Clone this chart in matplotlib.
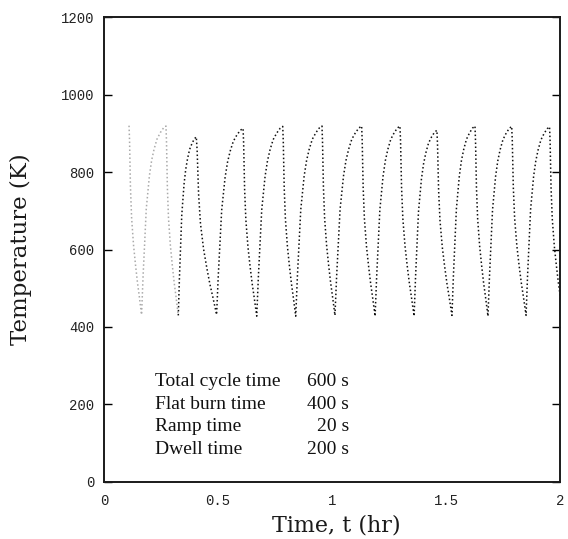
import numpy as np
import matplotlib
matplotlib.use("Agg")
import matplotlib.pyplot as plt

# Peak and minimum points of each burn cycle (time in hr, temperature in K)
peak_times = [0.110, 0.272, 0.405, 0.610, 0.784, 0.956, 1.130, 1.298, 1.460, 1.627, 1.788, 1.954]
peak_temps = [920, 919, 891, 913, 918, 919, 919, 919, 908, 919, 918, 917]
# last minimum lies just past the right edge of the axes
min_times = [0.165, 0.326, 0.494, 0.670, 0.841, 1.013, 1.189, 1.360, 1.526, 1.684, 1.851, 2.012]
min_temps = [432, 430, 432, 428, 428, 430, 428, 428, 430, 428, 430, 430]

# Shape of one cycle, read from the cycle around t = 0.8 hr (seconds from start of segment, K)
rise_dt = [0, 26, 53, 79, 110, 132, 170, 211, 260, 317, 370, 412]
rise_temp = [428, 530, 616, 702, 752, 788, 828, 857, 883, 900, 912, 917]
fall_dt = [0, 8, 22, 40, 70, 100, 130, 158, 180, 195]
fall_temp = [917, 880, 760, 680, 610, 560, 515, 480, 450, 431]

# Early, faint part of the trace (scan lost most of its dots)
faint_until = 0.326

table_labels = ["Total cycle time", "Flat burn time", "Ramp time", "Dwell time"]
table_values = ["600 s", "400 s", "20 s", "200 s"]

x_ticks = [0, 0.5, 1, 1.5, 2]
x_ticklabels = ["0", "0.5", "1", "1.5", "2"]
y_ticks = [0, 200, 400, 600, 800, 1000, 1200]


def stretch(dt, temp, t0, T0, t1, T1):
    # fit the cycle shape between two read points
    dt = np.asarray(dt, float)
    temp = np.asarray(temp, float)
    ft = (dt - dt[0]) / (dt[-1] - dt[0])
    fT = (temp - temp[0]) / (temp[-1] - temp[0])
    return t0 + ft * (t1 - t0), T0 + fT * (T1 - T0)


segments = []
segments.append(stretch(fall_dt, fall_temp, peak_times[0], peak_temps[0], min_times[0], min_temps[0]))
for i in range(len(min_times) - 1):
    segments.append(stretch(rise_dt, rise_temp, min_times[i], min_temps[i],
                            peak_times[i + 1], peak_temps[i + 1]))
    segments.append(stretch(fall_dt, fall_temp, peak_times[i + 1], peak_temps[i + 1],
                            min_times[i + 1], min_temps[i + 1]))

t_all = np.concatenate([s[0][:-1] if k < len(segments) - 1 else s[0] for k, s in enumerate(segments)])
T_all = np.concatenate([s[1][:-1] if k < len(segments) - 1 else s[1] for k, s in enumerate(segments)])

fig = plt.figure(figsize=(5.68, 5.39), dpi=100)
ax = fig.add_axes([0.183, 0.106, 0.803, 0.862])

dots = (0, (1, 1.6))
early = t_all <= faint_until + 1e-9
ax.plot(t_all[early], T_all[early], color="#444444", lw=1.1, ls=dots, alpha=0.45)
late = t_all >= faint_until - 1e-9
ax.plot(t_all[late], T_all[late], color="#111111", lw=1.1, ls=dots)

ax.set_xlim(0, 2)
ax.set_ylim(0, 1200)

ax.set_xticks(x_ticks)
ax.set_xticklabels(x_ticklabels)
ax.set_yticks(y_ticks)
ax.tick_params(axis="y", direction="in", length=6, width=1.0, left=True, right=True,
               pad=7, labelsize=10, labelcolor="#222222")
ax.tick_params(axis="x", length=0, pad=9, labelsize=10, labelcolor="#222222")
for lab in ax.get_xticklabels() + ax.get_yticklabels():
    lab.set_family("Liberation Mono")

for sp in ax.spines.values():
    sp.set_linewidth(1.4)
    sp.set_color("#1a1a1a")

ax.set_xlabel("Time, t (hr)", family="DejaVu Serif", fontsize=16, color="#1a1a1a")
ax.xaxis.set_label_coords(0.51, -0.07)
ax.set_ylabel("Temperature (K)", family="DejaVu Serif", fontsize=16.5, labelpad=21, color="#1a1a1a")

# parameter table inside the axes
row_y = [260, 201, 142, 83]
for label, value, y in zip(table_labels, table_values, row_y):
    ax.text(0.224, y, label, family="Liberation Serif", fontsize=14, va="center", ha="left", color="#111111")
    ax.text(1.075, y, value, family="Liberation Serif", fontsize=14, va="center", ha="right", color="#111111")

fig.savefig("out.png", dpi=100)
